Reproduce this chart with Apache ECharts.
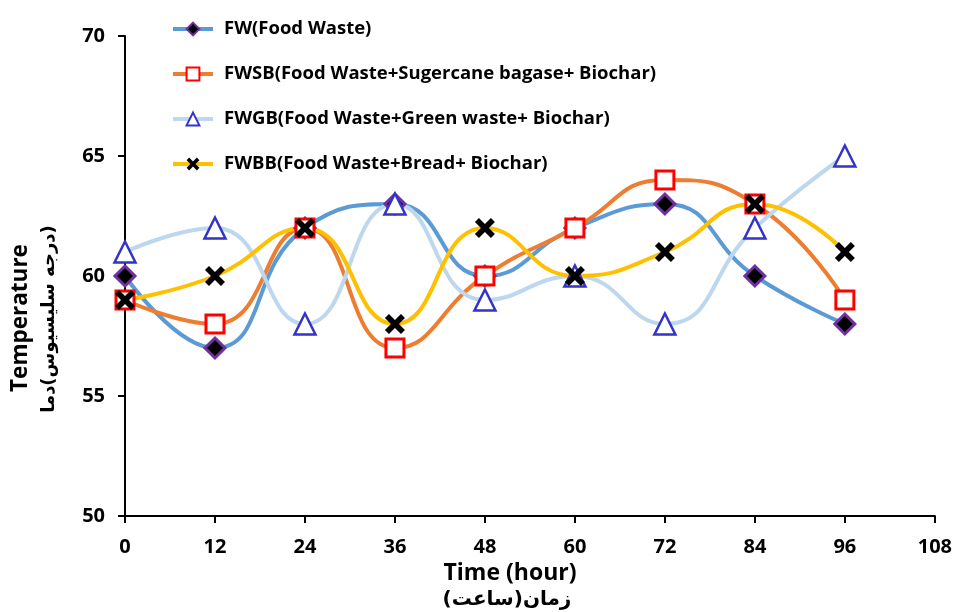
<!DOCTYPE html>
<html>
<head>
<meta charset="utf-8">
<script src="https://cdn.jsdelivr.net/npm/echarts@6/dist/echarts.min.js"></script>
<style>html,body{margin:0;padding:0;background:#fff}#c{width:955px;height:612px}</style>
</head>
<body>
<div id="c"></div>
<script>
var hours = [0, 12, 24, 36, 48, 60, 72, 84, 96];
var seriesNames = [
  'FW(Food Waste)',
  'FWSB(Food Waste+Sugercane bagase+ Biochar)',
  'FWGB(Food Waste+Green waste+ Biochar)',
  'FWBB(Food Waste+Bread+ Biochar)'
];
var fw   = [60, 57, 62, 63, 60, 62, 63, 60, 58];
var fwsb = [59, 58, 62, 57, 60, 62, 64, 63, 59];
var fwgb = [61, 62, 58, 63, 59, 60, 58, 62, 65];
var fwbb = [59, 60, 62, 58, 62, 60, 61, 63, 61];
var xTitle = 'Time (hour)';
var xTitleFa = '\u202Bزمان(ساعت)\u202C';
var yTitle = 'Temperature';
var yTitleFa = '\u202B(درجه سلیسیوس)دما\u202C';

var FONT = '"Open Sans", "DejaVu Sans", sans-serif';
var FA_FONT = '"DejaVu Sans", sans-serif';
var xPath = 'path://M0,2 L2,0 L5,3 L8,0 L10,2 L7,5 L10,8 L8,10 L5,7 L2,10 L0,8 L3,5 Z';

function pairs(arr) { return hours.map(function (h, i) { return [h, arr[i]]; }); }

var chart = echarts.init(document.getElementById('c'), null, {renderer: 'canvas'});
chart.setOption({
  animation: false,
  backgroundColor: '#ffffff',
  grid: {left: 125, right: 18, top: 36, bottom: 96, containLabel: false},
  legend: {
    orient: 'vertical', left: 166, top: 14, itemWidth: 40, itemHeight: 16, itemGap: 25,
    lineStyle: {width: 4},
    textStyle: {fontFamily: FONT, fontWeight: 'bold', fontSize: 18.5, lineHeight: 20, color: '#000', padding: [0, 0, 0, 6]},
    data: seriesNames
  },
  xAxis: {
    type: 'value', min: 0, max: 108, interval: 12,
    axisLine: {lineStyle: {color: '#000', width: 2}},
    axisTick: {show: true, length: 7, lineStyle: {color: '#000', width: 2}},
    axisLabel: {fontFamily: FONT, fontWeight: 'bold', fontSize: 20, color: '#000', margin: 21},
    splitLine: {show: false}
  },
  yAxis: {
    type: 'value', min: 50, max: 70, interval: 5,
    axisLine: {show: true, lineStyle: {color: '#000', width: 2}},
    axisTick: {show: true, length: 7, lineStyle: {color: '#000', width: 2}},
    axisLabel: {fontFamily: FONT, fontWeight: 'bold', fontSize: 20, color: '#000', margin: 20},
    splitLine: {show: false}
  },
  graphic: [
    {type: 'text', x: 510, y: 573, style: {text: xTitle, font: 'bold 23px ' + FONT, fill: '#000', align: 'center', verticalAlign: 'middle'}},
    {type: 'text', x: 507, y: 600, style: {text: xTitleFa, font: 'bold 20px ' + FA_FONT, fill: '#000', align: 'center', verticalAlign: 'middle'}},
    {type: 'text', rotation: Math.PI / 2, x: 21, y: 318, style: {text: yTitle, font: 'bold 22.5px ' + FONT, fill: '#000', align: 'center', verticalAlign: 'middle'}},
    {type: 'text', rotation: Math.PI / 2, x: 49, y: 319, style: {text: yTitleFa, font: 'bold 18px ' + FA_FONT, fill: '#000', align: 'center', verticalAlign: 'middle'}}
  ],
  series: [
    {
      name: seriesNames[0], type: 'line', smooth: 0.5, data: pairs(fw),
      lineStyle: {color: '#5B9BD5', width: 4},
      itemStyle: {color: '#000000', borderColor: '#7030A0', borderWidth: 3},
      symbol: 'diamond', symbolSize: 20
    },
    {
      name: seriesNames[1], type: 'line', smooth: 0.5, data: pairs(fwsb),
      lineStyle: {color: '#ED7D31', width: 4},
      itemStyle: {color: '#ffffff', borderColor: '#FF0000', borderWidth: 3},
      symbol: 'rect', symbolSize: 18
    },
    {
      name: seriesNames[2], type: 'line', smooth: 0.5, data: pairs(fwgb),
      lineStyle: {color: '#BDD7EE', width: 4},
      itemStyle: {color: '#ffffff', borderColor: '#3333CC', borderWidth: 2.5},
      symbol: 'triangle', symbolSize: 21
    },
    {
      name: seriesNames[3], type: 'line', smooth: 0.5, data: pairs(fwbb),
      lineStyle: {color: '#FFC000', width: 4},
      itemStyle: {color: '#000000', borderWidth: 0},
      symbol: xPath, symbolSize: 20
    }
  ]
});
</script>
</body>
</html>
